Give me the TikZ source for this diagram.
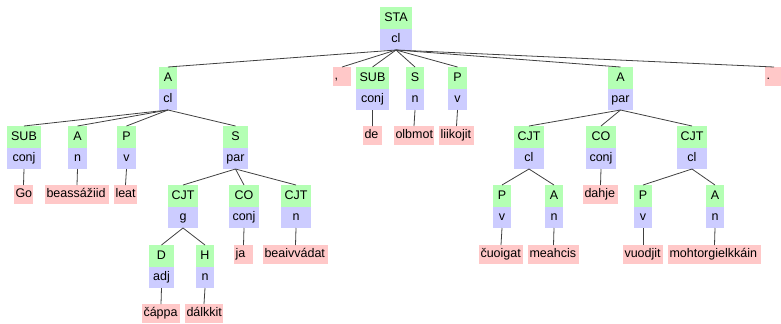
\documentclass[tikz,border=0pt]{standalone}
\usepackage{fontspec}
\setmainfont{Liberation Sans}
\definecolor{lg}{RGB}{180,255,180}
\definecolor{lb}{RGB}{204,204,255}
\definecolor{lp}{RGB}{255,200,200}
\tikzset{
  box/.style={inner ysep=0pt, inner xsep=0pt, outer sep=0pt, anchor=north west,
    text height=9.2bp, text depth=2.6bp, font=\fontsize{12.5bp}{14bp}\selectfont},
  labbox/.style={box, fill=lg, minimum height=21.5bp},
  posbox/.style={box, fill=lb, minimum height=21.5bp},
  wordbox/.style={box, fill=lp, minimum height=19bp, inner xsep=1.5bp, align=left},
  edge/.style={draw=black!75, line width=0.8bp}
}
\newcommand\cnst[6]{%
  \node[labbox, minimum width={(#3-#2)*1bp}] (#1-l) at (#2,#4) {#5};
  \node[posbox, minimum width={(#3-#2)*1bp}] (#1) at (#2,{#4+21.5}) {#6};}
\newcommand\wnode[5]{%
  \node[wordbox, text width={(#3-#2-3)*1bp}] (#1) at (#2,#4) {\mbox{#5}};}
\begin{document}
\begin{tikzpicture}[x=1bp,y=-1bp]
\useasboundingbox (0,0) rectangle (781,323);
% level 0
\cnst{sta}{380}{412}{7}{STA}{cl}
% level 1
\cnst{a1}{159}{177}{67}{A}{cl}
\wnode{comma}{333}{351}{67}{,}
\cnst{sub1}{356}{389}{67}{SUB}{conj}
\cnst{s1}{406}{424}{67}{S}{n}
\cnst{p1}{448}{467}{67}{P}{v}
\cnst{a2}{608}{633}{67}{A}{par}
\wnode{period}{765}{783}{67}{.}
% level 2
\cnst{sub2}{7}{41}{126}{SUB}{conj}
\cnst{a3}{68}{87}{126}{A}{n}
\cnst{p2}{117}{136}{126}{P}{v}
\cnst{s2}{223}{248}{126}{S}{par}
\wnode{wde}{363}{382}{126}{de}
\wnode{wolbmot}{394}{434}{126}{olbmot}
\wnode{wliikojit}{439}{474}{126}{liikojit}
\cnst{cjt1}{514}{544}{126}{CJT}{cl}
\cnst{co1}{586}{616}{126}{CO}{conj}
\cnst{cjt2}{677}{707}{126}{CJT}{cl}
% level 3
\wnode{wgo}{14}{33}{185}{Go}
\wnode{wbeas}{45}{109}{185}{beassážiid}
\wnode{wleat}{114}{137}{185}{leat}
\cnst{cjt3}{168}{198}{185}{CJT}{g}
\cnst{co2}{229}{259}{185}{CO}{conj}
\cnst{cjt4}{281}{311}{185}{CJT}{n}
\cnst{p3}{493}{511}{185}{P}{v}
\cnst{a4}{545}{563}{185}{A}{n}
\wnode{wdahje}{583}{618}{185}{dahje}
\cnst{p4}{634}{652}{185}{P}{v}
\cnst{a5}{706}{724}{185}{A}{n}
% level 4
\cnst{d1}{149}{174}{245}{D}{adj}
\cnst{h1}{196}{214}{245}{H}{n}
\wnode{wja}{234}{253}{245}{ja}
\wnode{wbeaiv}{263}{328}{245}{beaivvádat}
\wnode{wcuoigat}{479}{523}{245}{čuoigat}
\wnode{wmeahcis}{528}{579}{245}{meahcis}
\wnode{wvuodjit}{623}{663}{245}{vuodjit}
\wnode{wmohtor}{668}{761}{245}{mohtorgielkkáin}
% level 5
\wnode{wcappa}{142}{180}{304}{čáppa}
\wnode{wdalkkit}{185}{223}{304}{dálkkit}
% edges
\foreach \c in {a1-l,comma,sub1-l,s1-l,p1-l,a2-l,period}
  \draw[edge] (sta.south) -- (\c.north);
\foreach \c in {sub2-l,a3-l,p2-l,s2-l}
  \draw[edge] (a1.south) -- (\c.north);
\draw[edge] (sub1.south) -- (wde.north);
\draw[edge] (s1.south) -- (wolbmot.north);
\draw[edge] (p1.south) -- (wliikojit.north);
\foreach \c in {cjt1-l,co1-l,cjt2-l}
  \draw[edge] (a2.south) -- (\c.north);
\draw[edge] (sub2.south) -- (wgo.north);
\draw[edge] (a3.south) -- (wbeas.north);
\draw[edge] (p2.south) -- (wleat.north);
\foreach \c in {cjt3-l,co2-l,cjt4-l}
  \draw[edge] (s2.south) -- (\c.north);
\draw[edge] (cjt1.south) -- (p3-l.north);
\draw[edge] (cjt1.south) -- (a4-l.north);
\draw[edge] (co1.south) -- (wdahje.north);
\draw[edge] (cjt2.south) -- (p4-l.north);
\draw[edge] (cjt2.south) -- (a5-l.north);
\draw[edge] (cjt3.south) -- (d1-l.north);
\draw[edge] (cjt3.south) -- (h1-l.north);
\draw[edge] (co2.south) -- (wja.north);
\draw[edge] (cjt4.south) -- (wbeaiv.north);
\draw[edge] (p3.south) -- (wcuoigat.north);
\draw[edge] (a4.south) -- (wmeahcis.north);
\draw[edge] (p4.south) -- (wvuodjit.north);
\draw[edge] (a5.south) -- (wmohtor.north);
\draw[edge] (d1.south) -- (wcappa.north);
\draw[edge] (h1.south) -- (wdalkkit.north);
\end{tikzpicture}
\end{document}
